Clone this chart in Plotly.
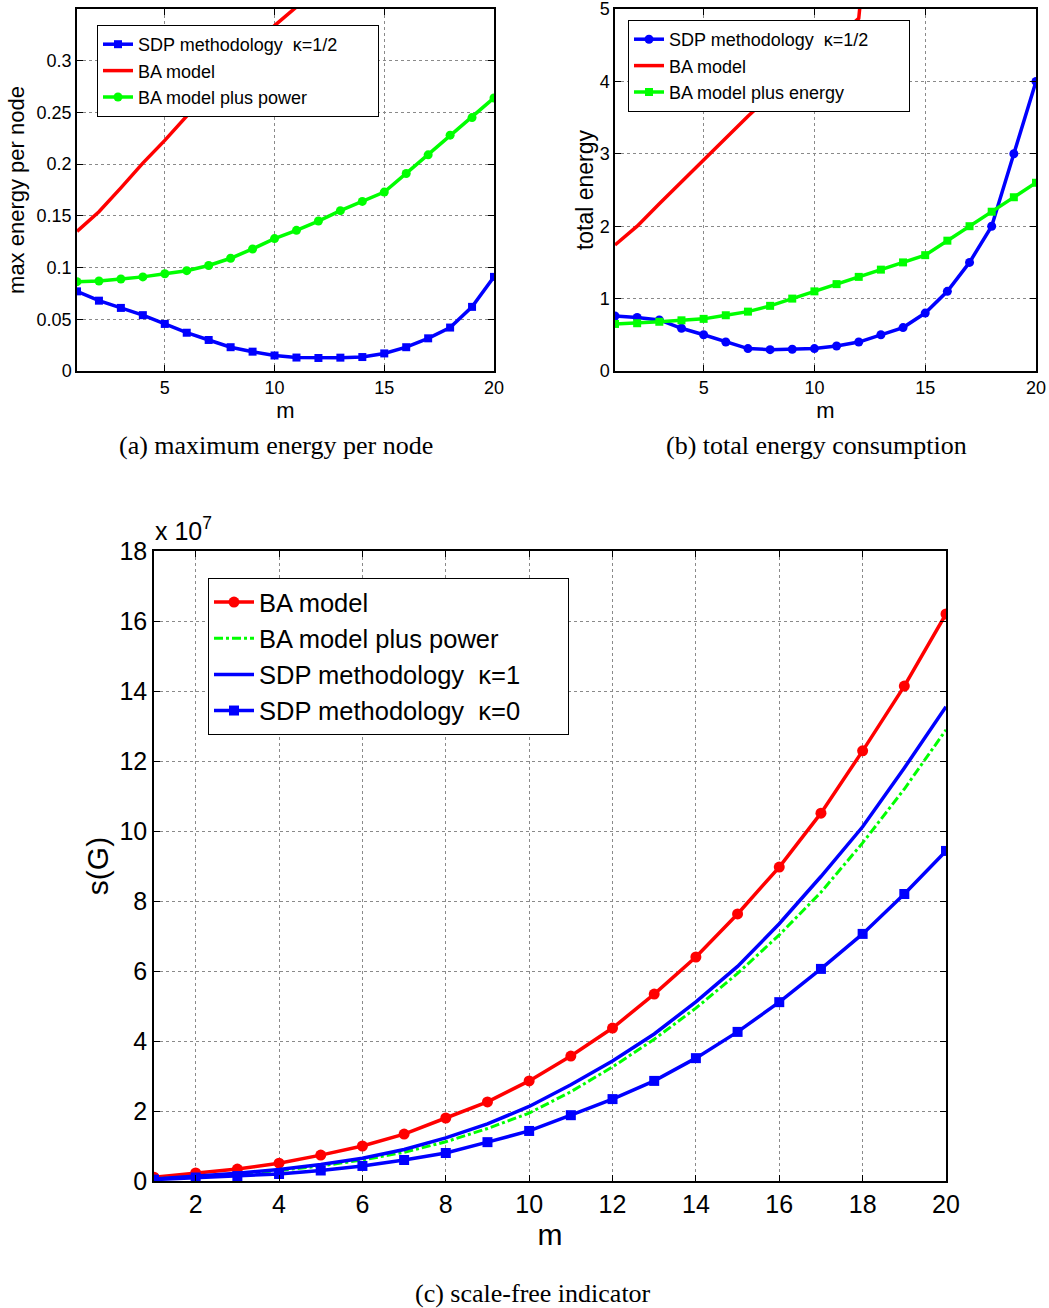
import plotly.graph_objects as go

# ---------------- data ----------------
m = list(range(1, 21))

# (a) maximum energy per node
a_sdp = [0.077, 0.068, 0.061, 0.054, 0.0455, 0.037, 0.030, 0.023, 0.0187, 0.015,
         0.013, 0.0126, 0.0129, 0.0135, 0.017, 0.023, 0.0316, 0.042, 0.062, 0.091]
a_ba_m = [1, 2, 3, 4, 5, 6, 7, 8, 9, 10, 11, 12]
a_ba = [0.135, 0.154, 0.177, 0.201, 0.223, 0.247, 0.270, 0.292, 0.313, 0.334, 0.352, 0.372]
a_bap = [0.0864, 0.087, 0.089, 0.091, 0.094, 0.097, 0.102, 0.109, 0.118, 0.128,
         0.136, 0.145, 0.155, 0.164, 0.173, 0.191, 0.209, 0.228, 0.245, 0.264]

# (b) total energy consumption
b_sdp = [0.76, 0.74, 0.705, 0.59, 0.50, 0.40, 0.31, 0.295, 0.30, 0.31,
         0.345, 0.40, 0.50, 0.60, 0.80, 1.10, 1.50, 2.0, 3.0, 4.0]
b_ba_m = [1, 2, 3, 4, 5, 6, 7, 8, 9, 10, 11, 12, 13]
b_ba = [1.74, 2.0, 2.31, 2.61, 2.92, 3.22, 3.52, 3.80, 4.08, 4.35, 4.6, 4.87, 8.0]
b_bae = [0.65, 0.66, 0.68, 0.70, 0.72, 0.77, 0.82, 0.90, 1.0, 1.1,
         1.2, 1.3, 1.4, 1.5, 1.6, 1.8, 2.0, 2.2, 2.4, 2.6]

# (c) scale-free indicator (units of 1e7)
c_ba = [0.11, 0.23, 0.34, 0.51, 0.74, 1.0, 1.34, 1.8, 2.26, 2.86,
        3.57, 4.37, 5.34, 6.4, 7.63, 8.97, 10.51, 12.29, 14.14, 16.2]
c_bap = [0.06, 0.12, 0.2, 0.3, 0.43, 0.6, 0.82, 1.12, 1.5, 1.94,
         2.55, 3.26, 4.05, 4.94, 5.93, 7.03, 8.25, 9.66, 11.2, 12.89]
c_sdp1 = [0.06, 0.14, 0.22, 0.33, 0.47, 0.65, 0.9, 1.23, 1.63, 2.13,
          2.75, 3.43, 4.2, 5.12, 6.13, 7.35, 8.7, 10.12, 11.8, 13.55]
c_sdp0 = [0.04, 0.1, 0.14, 0.2, 0.3, 0.43, 0.6, 0.8, 1.11, 1.43,
          1.88, 2.34, 2.86, 3.51, 4.26, 5.11, 6.06, 7.06, 8.2, 9.43]

a_yticks = [0, 0.05, 0.1, 0.15, 0.2, 0.25, 0.3]
b_yticks = [0, 1, 2, 3, 4, 5]
c_yticks = [0, 2, 4, 6, 8, 10, 12, 14, 16, 18]
ab_xticks = [5, 10, 15, 20]
c_xticks = [2, 4, 6, 8, 10, 12, 14, 16, 18, 20]

BLUE = "#0000ff"
RED = "#ff0000"
GREEN = "#00ff00"
FONT = "Liberation Sans, Arial, sans-serif"
SERIF = "Liberation Serif, Times New Roman, serif"
NB = "\u00a0"
LW = 3.5

fig = go.Figure()

# ---- (a)
fig.add_trace(go.Scatter(x=m, y=a_sdp, name="SDP methodology" + NB * 2 + "κ=1/2" + NB * 7,
                         mode="lines+markers", line=dict(color=BLUE, width=LW),
                         marker=dict(symbol="square", size=8, color=BLUE),
                         xaxis="x", yaxis="y", legend="legend"))
fig.add_trace(go.Scatter(x=a_ba_m, y=a_ba, name="BA model", mode="lines",
                         line=dict(color=RED, width=LW),
                         xaxis="x", yaxis="y", legend="legend"))
fig.add_trace(go.Scatter(x=m, y=a_bap, name="BA model plus power",
                         mode="lines+markers", line=dict(color=GREEN, width=LW),
                         marker=dict(symbol="circle", size=9, color=GREEN),
                         xaxis="x", yaxis="y", legend="legend"))

# ---- (b)
fig.add_trace(go.Scatter(x=m, y=b_sdp, name="SDP methodology" + NB * 2 + "κ=1/2" + NB * 7,
                         mode="lines+markers", line=dict(color=BLUE, width=LW),
                         marker=dict(symbol="circle", size=9, color=BLUE),
                         xaxis="x2", yaxis="y2", legend="legend2"))
fig.add_trace(go.Scatter(x=b_ba_m, y=b_ba, name="BA model", mode="lines",
                         line=dict(color=RED, width=LW),
                         xaxis="x2", yaxis="y2", legend="legend2"))
fig.add_trace(go.Scatter(x=m, y=b_bae, name="BA model plus energy",
                         mode="lines+markers", line=dict(color=GREEN, width=LW),
                         marker=dict(symbol="square", size=8, color=GREEN),
                         xaxis="x2", yaxis="y2", legend="legend2"))

# ---- (c)
fig.add_trace(go.Scatter(x=m, y=c_ba, name="BA model", mode="lines+markers",
                         line=dict(color=RED, width=LW),
                         marker=dict(symbol="circle", size=11, color=RED),
                         xaxis="x3", yaxis="y3", legend="legend3"))
fig.add_trace(go.Scatter(x=m, y=c_bap, name="BA model plus power", mode="lines",
                         line=dict(color=GREEN, width=3, dash="dashdot"),
                         xaxis="x3", yaxis="y3", legend="legend3"))
fig.add_trace(go.Scatter(x=m, y=c_sdp1, name="SDP methodology" + NB * 2 + "κ=1",
                         mode="lines", line=dict(color=BLUE, width=LW),
                         xaxis="x3", yaxis="y3", legend="legend3"))
fig.add_trace(go.Scatter(x=m, y=c_sdp0, name="SDP methodology" + NB * 2 + "κ=0" + NB * 6,
                         mode="lines+markers", line=dict(color=BLUE, width=LW),
                         marker=dict(symbol="square", size=10, color=BLUE),
                         xaxis="x3", yaxis="y3", legend="legend3"))

W, H = 1049, 1308


def fx(px):
    return px / W


def fy(py):
    return 1 - py / H


def axis_common(fs):
    return dict(showline=True, linecolor="black", linewidth=1.5, mirror="ticks",
                ticks="inside", ticklen=6, tickcolor="black", tickwidth=1,
                showgrid=True, gridcolor="#8a8a8a", griddash="dot", gridwidth=1,
                zeroline=False, automargin=False, ticklabeloverflow="allow",
                tickfont=dict(family=FONT, size=fs, color="black"))


layout = dict(
    width=W, height=H, margin=dict(l=0, r=0, t=0, b=0, autoexpand=False),
    paper_bgcolor="white", plot_bgcolor="white",
    font=dict(family=FONT, color="black"),
)

# axes (a)
layout["xaxis"] = dict(axis_common(18), domain=[fx(77), fx(494)], range=[1, 20],
                       tickvals=ab_xticks, anchor="y",
                       title=dict(text="m", font=dict(size=22), standoff=0))
layout["yaxis"] = dict(axis_common(18), domain=[fy(371), fy(9)], range=[0, 0.35],
                       tickvals=a_yticks, anchor="x",
                       title=dict(text="max energy per node", font=dict(size=22), standoff=6))
# axes (b)
layout["xaxis2"] = dict(axis_common(18), domain=[fx(615), fx(1036)], range=[1, 20],
                        tickvals=ab_xticks, anchor="y2",
                        title=dict(text="m", font=dict(size=22), standoff=0))
layout["yaxis2"] = dict(axis_common(18), domain=[fy(371), fy(9)], range=[0, 5],
                        tickvals=b_yticks, anchor="x2",
                        title=dict(text="total energy", font=dict(size=23), standoff=0))
# axes (c)
layout["xaxis3"] = dict(axis_common(25), domain=[fx(154), fx(946)], range=[1, 20],
                        tickvals=c_xticks, anchor="y3",
                        title=dict(text="m", font=dict(size=30), standoff=0))
layout["yaxis3"] = dict(axis_common(25), domain=[fy(1181), fy(551)], range=[0, 18],
                        tickvals=c_yticks, anchor="x3",
                        title=dict(text="s(G)", font=dict(size=30), standoff=2))

leg_common = dict(bgcolor="white", bordercolor="black", borderwidth=1,
                  xanchor="left", yanchor="top", traceorder="normal")
layout["legend"] = dict(leg_common, x=fx(97), y=fy(25), font=dict(family=FONT, size=18),
                        itemwidth=30)
layout["legend2"] = dict(leg_common, x=fx(628), y=fy(20), font=dict(family=FONT, size=18),
                         itemwidth=30)
layout["legend3"] = dict(leg_common, x=fx(208), y=fy(578), font=dict(family=FONT, size=25.5),
                         itemwidth=40)

layout["annotations"] = [
    dict(text="x 10<sup>7</sup>", x=fx(153), y=fy(547), xref="paper", yref="paper",
         xanchor="left", yanchor="bottom", showarrow=False,
         font=dict(family=FONT, size=25, color="black")),
    dict(text="(a) maximum energy per node", x=fx(276), y=fy(446), xref="paper", yref="paper",
         xanchor="center", yanchor="middle", showarrow=False,
         font=dict(family=SERIF, size=26, color="black")),
    dict(text="(b) total energy consumption", x=fx(816), y=fy(446), xref="paper", yref="paper",
         xanchor="center", yanchor="middle", showarrow=False,
         font=dict(family=SERIF, size=26, color="black")),
    dict(text="(c) scale-free indicator", x=fx(533), y=fy(1293), xref="paper", yref="paper",
         xanchor="center", yanchor="middle", showarrow=False,
         font=dict(family=SERIF, size=26, color="black")),
]

fig.update_layout(**layout)
fig.write_html("out.html")
